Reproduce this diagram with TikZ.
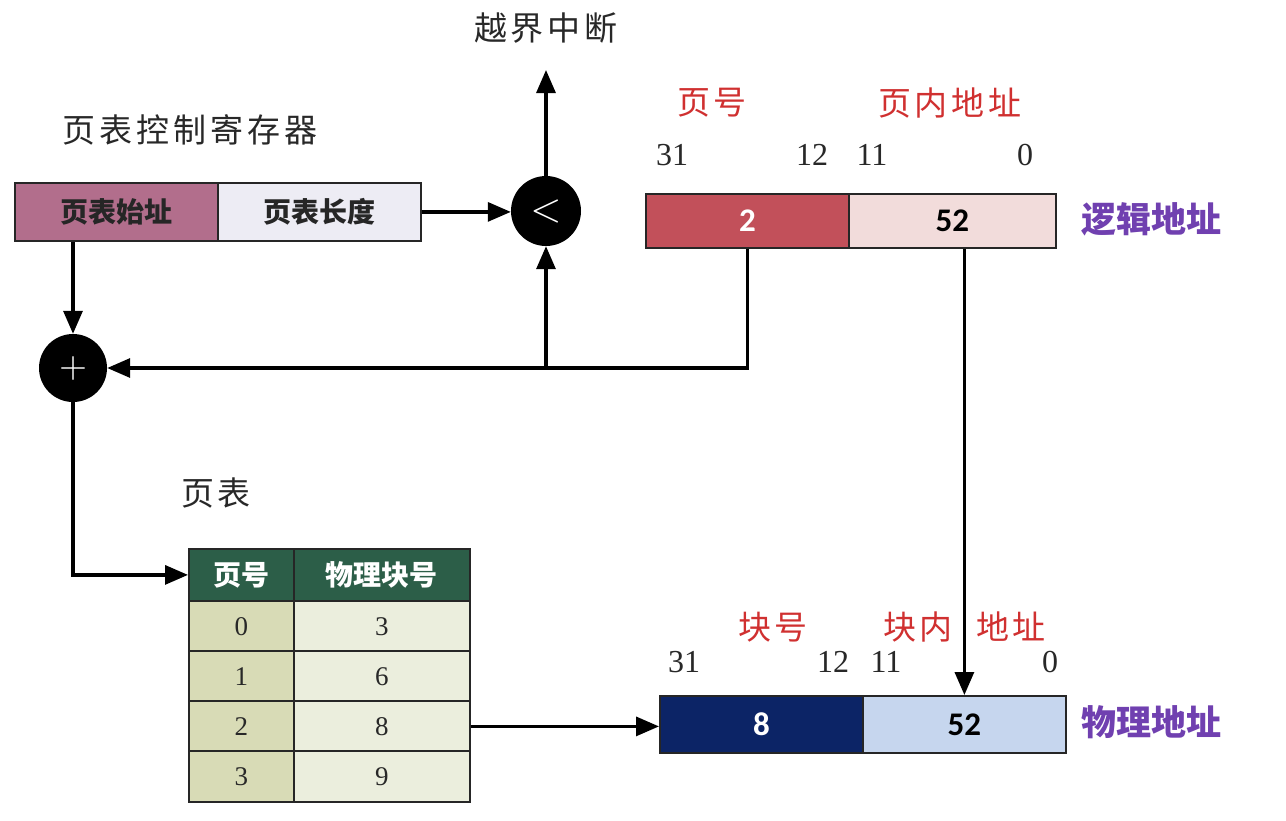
\documentclass[tikz,border=0pt]{standalone}
\usepackage{fontspec}
\usepackage{graphicx}
\setmainfont{Liberation Serif}
\newfontfamily\cjk{Noto Sans CJK SC}[LetterSpace=12]
\newfontfamily\cjkb{Noto Sans CJK SC}
\newfontfamily\numb{Carlito}
\usetikzlibrary{arrows.meta}
\definecolor{regA}{RGB}{178,110,140}
\definecolor{regB}{RGB}{237,236,244}
\definecolor{logA}{RGB}{194,80,90}
\definecolor{logB}{RGB}{242,220,219}
\definecolor{phyA}{RGB}{12,36,102}
\definecolor{phyB}{RGB}{198,214,238}
\definecolor{tabH}{RGB}{44,94,72}
\definecolor{tabL}{RGB}{216,219,182}
\definecolor{tabR}{RGB}{235,238,221}
\definecolor{lblred}{RGB}{208,48,48}
\definecolor{lblpur}{RGB}{112,64,176}
\definecolor{lblgray}{RGB}{40,40,40}
\begin{document}
\begin{tikzpicture}[x=1pt,y=-1pt,
  arr/.style={line width=3.2pt,-{Triangle[length=23pt,width=19pt]}},
  cell/.style={draw=black!85,line width=1.8pt,anchor=north west,inner sep=0pt},
  lbl/.style={text=lblgray,font=\cjk\fontsize{33}{33}\selectfont,inner sep=0pt},
  red/.style={text=lblred,font=\cjk\fontsize{33}{33}\selectfont,inner sep=0pt},
  pur/.style={text=lblpur,font=\cjkb\bfseries\fontsize{35}{35}\selectfont,inner sep=0pt},
  bit/.style={text=lblgray,font=\fontsize{32}{32}\selectfont,inner sep=0pt},
  boxt/.style={font=\cjkb\bfseries\fontsize{28}{28}\selectfont},
  bnum/.style={font=\numb\bfseries\fontsize{33}{33}\selectfont},
  tnum/.style={font=\fontsize{27}{27}\selectfont,text=lblgray},
  dot/.style={circle,fill=black,minimum size=70pt,inner sep=0pt}]
\useasboundingbox (0,0) rectangle (1286,820);
\fill[white] (0,0) rectangle (1286,820);

% register
\node[lbl] (regl) at (190,130) {页表控制寄存器};
\node[cell,fill=regA,minimum width=203pt,minimum height=58pt,boxt,text=black!85] (rs) at (14,182) {页表始址};
\node[cell,fill=regB,minimum width=203pt,minimum height=58pt,boxt,text=black!85] (rl) at (217,182) {页表长度};

% comparator
\node[dot] (cmp) at (546,211) {\textcolor{white}{\scalebox{4}{$<$}}};
\coordinate (intr) at (546,70);
\node[lbl] (intrl) at (546,28) {越界中断};
\coordinate (j) at (546,368);

% plus
\node[dot,minimum size=68pt] (plus) at (73,368) {\textcolor{white}{\scalebox{3.6}{$+$}}};

% logical address
\node[red] (lpn) at (712,103) {页号};
\node[red] (lpo) at (950,103) {页内地址};
\node[bit] (b31a) at (672,155) {31};
\node[bit] (b12a) at (812,155) {12};
\node[bit] (b11a) at (872,155) {11};
\node[bit] (b0a) at (1025,155) {0};
\node[cell,fill=logA,minimum width=203pt,minimum height=54pt,bnum,text=white] (lp) at (645,193) {2};
\node[cell,fill=logB,minimum width=207pt,minimum height=54pt,bnum,text=black] (lo) at (848,193) {52};
\node[pur] (logl) at (1151,219) {逻辑地址};

% page table
\node[lbl] (ptl) at (216,493) {页表};
\node[cell,fill=tabH,minimum width=105pt,minimum height=52pt,boxt,text=white] (h1) at (188,548) {页号};
\node[cell,fill=tabH,minimum width=176pt,minimum height=52pt,boxt,text=white] (h2) at (293,548) {物理块号};
\foreach \i/\p/\f in {0/0/3,1/1/6,2/2/8,3/3/9}{
  \node[cell,fill=tabL,minimum width=105pt,minimum height=51pt,tnum] (r\i a) at (188,600+50*\i) {\p};
  \node[cell,fill=tabR,minimum width=176pt,minimum height=51pt,tnum] (r\i b) at (293,600+50*\i) {\f};
}

% physical address
\node[red] (ppn) at (773,627) {块号};
\node[red] (ppo) at (918,627) {块内};
\node[red] (ppo2) at (1011,627) {地址};
\node[bit] (b31b) at (684,662) {31};
\node[bit] (b12b) at (833,662) {12};
\node[bit] (b11b) at (886,662) {11};
\node[bit] (b0b) at (1050,662) {0};
\node[cell,fill=phyA,minimum width=203pt,minimum height=57pt,bnum,text=white] (pp) at (659,695) {8};
\node[cell,fill=phyB,minimum width=203pt,minimum height=57pt,bnum,text=black] (po) at (862,695) {52};
\node[pur] (phyl) at (1151,722) {物理地址};

% connectors
\draw[arr] (rl.east) -- (rl.east -| cmp.west);
\draw[arr] (cmp.north) -- (intr);
\draw[arr] (j) -- (cmp.south);
\draw[arr] (lp.south) |- (plus.east);
\draw[arr] (plus.north |- rs.south) -- (plus.north);
\draw[arr] (plus.south) |- (h1.west);
\draw[arr] (r2b.east) -- (r2b.east -| pp.west);
\draw[arr] (po.north |- lo.south) -- (po.north);
\end{tikzpicture}
\end{document}
